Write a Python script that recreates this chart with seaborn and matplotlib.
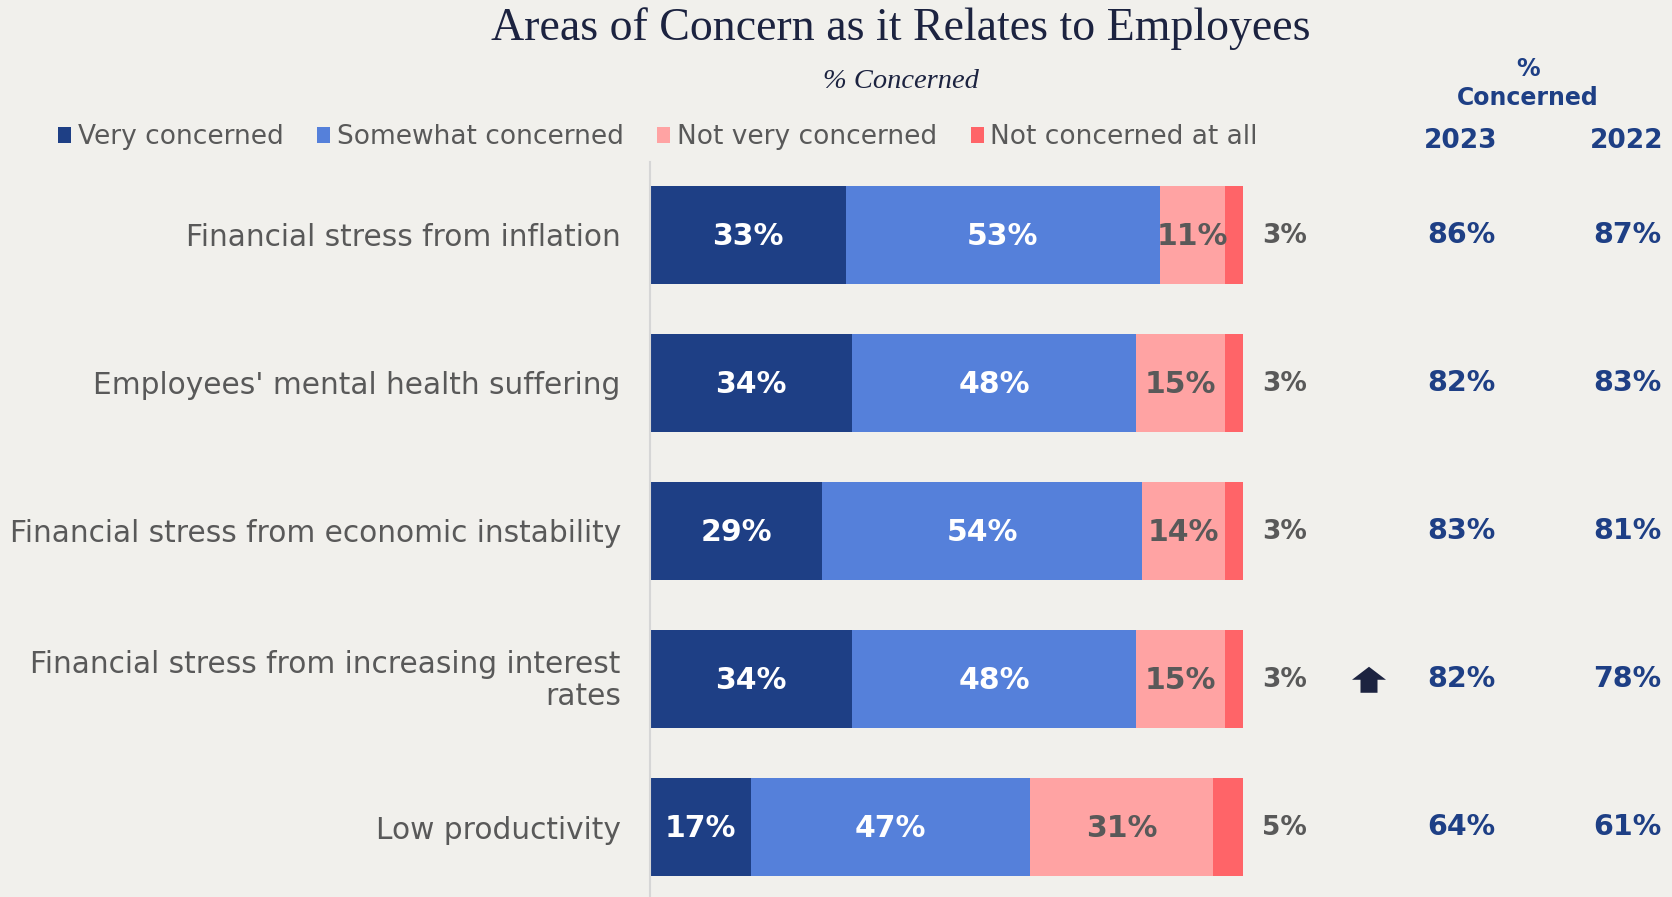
import matplotlib
matplotlib.use("Agg")
import matplotlib.pyplot as plt
import matplotlib.transforms as mtransforms
from matplotlib.patches import Patch, Polygon
import seaborn as sns
import pandas as pd
import numpy as np

# ---- data -------------------------------------------------------------
categories = [
    "Financial stress from inflation",
    "Employees' mental health suffering",
    "Financial stress from economic instability",
    "Financial stress from increasing interest\nrates",
    "Low productivity",
]
very_concerned = [33, 34, 29, 34, 17]
somewhat_concerned = [53, 48, 54, 48, 47]
not_very_concerned = [11, 15, 14, 15, 31]
not_concerned_at_all = [3, 3, 3, 3, 5]
concerned_2023 = [86, 82, 83, 82, 64]
concerned_2022 = [87, 83, 81, 78, 61]
significant_increase = [False, False, False, True, False]
series_names = ["Very concerned", "Somewhat concerned",
                "Not very concerned", "Not concerned at all"]
year_labels = ["2023", "2022"]

# ---- style ------------------------------------------------------------
BG = "#F1F0EC"
NAVY = "#1E3F85"
COLORS = ["#1E3F85", "#5580DA", "#FFA3A3", "#FF6468"]
GRAY = "#595959"
TITLE_C = "#1C2340"

sns.set_theme(style="white")
plt.rcParams["font.family"] = ["DejaVu Sans"]

W, H = 1672, 897
fig = plt.figure(figsize=(W / 100, H / 100), dpi=100, facecolor=BG)

# axes: x=0 sits at pixel 650, 100% spans 593 px
left_px, axis_top_px = 650, 162
px_per_pct = 593 / 100
ax = fig.add_axes([left_px / W, 0, 1 - left_px / W, (H - axis_top_px) / H])
ax.set_facecolor(BG)

series = [very_concerned, somewhat_concerned, not_very_concerned, not_concerned_at_all]
cum = np.cumsum(np.array(series), axis=0)
df = pd.DataFrame({"category": categories})
for i, name in enumerate(series_names):
    df[name] = cum[i]

# stacked bars: draw cumulative totals from the longest down
for i in reversed(range(len(series_names))):
    sns.barplot(data=df, y="category", x=series_names[i], color=COLORS[i],
                saturation=1, width=0.66, orient="h", ax=ax,
                edgecolor="none", linewidth=0)

row_gap = 148
ax.set_xlim(0, (W - left_px) / px_per_pct)
ax.set_ylim(4 + (897 - 827) / row_gap, -(235 - axis_top_px) / row_gap)

for s in ["top", "right", "bottom"]:
    ax.spines[s].set_visible(False)
ax.spines["left"].set_color("#D6D6D6")
ax.spines["left"].set_linewidth(1.5)
ax.set_xticks([])
ax.set_xlabel("")
ax.set_ylabel("")
ax.tick_params(axis="y", length=0, pad=21)
ax.set_yticks(range(len(categories)))
ax.set_yticklabels(categories, fontsize=21.3, color=GRAY, ha="right",
                   multialignment="right", linespacing=1.15)
for lbl in ax.get_yticklabels():
    if "\n" in lbl.get_text():
        lbl.set_transform(lbl.get_transform() + mtransforms.ScaledTranslation(
            0, 3 / 100, fig.dpi_scale_trans))

# segment labels
label_colors = ["white", "white", GRAY]
for r in range(len(categories)):
    for i in range(3):
        v = series[i][r]
        start = cum[i][r] - v
        ax.text(start + v / 2, r + 0.01, f"{v}%", ha="center", va="center",
                fontsize=21.5, fontweight="bold", color=label_colors[i])
    end = cum[3][r]
    ax.text(end + 19 / px_per_pct, r + 0.01, f"{not_concerned_at_all[r]}%",
            ha="left", va="center", fontsize=19, fontweight="bold", color=GRAY)

# % concerned columns
x2023 = (1461 - left_px) / px_per_pct
x2022 = (1627 - left_px) / px_per_pct
xarrow = (1369 - left_px) / px_per_pct
for r in range(len(categories)):
    ax.text(x2023, r, f"{concerned_2023[r]}%", ha="center", va="center",
            fontsize=20.5, fontweight="bold", color=NAVY)
    ax.text(x2022, r, f"{concerned_2022[r]}%", ha="center", va="center",
            fontsize=20.5, fontweight="bold", color=NAVY)
    if significant_increase[r]:
        pts = np.array([(-17, 1), (0, 14), (17, 1), (8.5, 1), (8.5, -12),
                        (-8.5, -12), (-8.5, 1)]) / 100.0
        trans = fig.dpi_scale_trans + mtransforms.ScaledTranslation(
            xarrow, r + 0.012, ax.transData)
        ax.add_patch(Polygon(pts, closed=True, transform=trans,
                             facecolor=TITLE_C, edgecolor="none",
                             clip_on=False))

fig.text(1528 / W, 1 - 69 / H, "%", ha="center", va="center",
         fontsize=17, fontweight="bold", color=NAVY)
fig.text(1528 / W, 1 - 98 / H, "Concerned", ha="center", va="center",
         fontsize=17, fontweight="bold", color=NAVY)
fig.text(1461 / W, 1 - 141 / H, year_labels[0], ha="center", va="center",
         fontsize=19, fontweight="bold", color=NAVY)
fig.text(1627 / W, 1 - 141 / H, year_labels[1], ha="center", va="center",
         fontsize=19, fontweight="bold", color=NAVY)

# title and subtitle
fig.text(901 / W, 1 - 29 / H, "Areas of Concern as it Relates to Employees",
         ha="center", va="center", fontsize=33, family="Liberation Serif",
         color=TITLE_C)
fig.text(901 / W, 1 - 81 / H, "% Concerned", ha="center", va="center",
         fontsize=20.5, family="Liberation Serif", style="italic", color=TITLE_C)

# legend
handles = [Patch(facecolor=c, edgecolor="none", label=n)
           for c, n in zip(COLORS, series_names)]
fig.legend(handles=handles, ncol=4, loc="center left",
           bbox_to_anchor=(58 / W, 1 - 137 / H), frameon=False, fontsize=19,
           handlelength=0.5, handleheight=0.55, handletextpad=0.25,
           columnspacing=1.27, borderpad=0, borderaxespad=0,
           labelcolor=GRAY)

fig.savefig("out.png", dpi=100, facecolor=BG)
